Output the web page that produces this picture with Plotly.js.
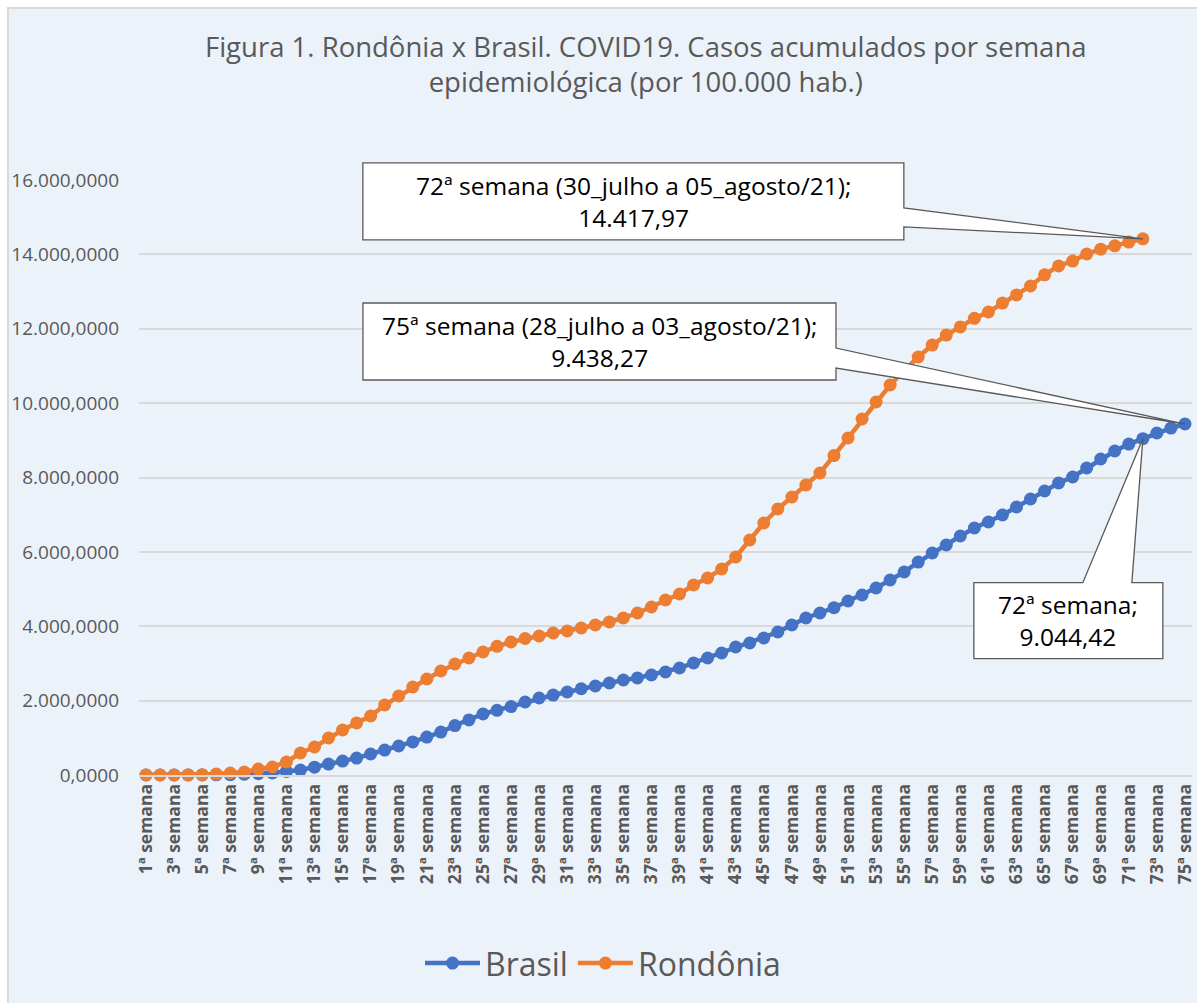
<!DOCTYPE html>
<html>
<head>
<meta charset="utf-8">
<script src="https://cdn.plot.ly/plotly-3.0.1.min.js"></script>
<style>
  body { margin: 0; background: #ffffff; }
  #frame { position: absolute; left: 7px; top: 7px; width: 1190px; height: 996px;
           border-left: 2px solid #d9d9d9; border-top: 2px solid #d9d9d9; }
  #plot { position: absolute; left: 0; top: 0; width: 1188px; height: 994px; }
</style>
</head>
<body>
<div id="frame"><div id="plot"></div></div>
<script>
// casos acumulados por 100.000 hab., por semana epidemiológica
var brasil = [0, 0, 0, 1, 2, 5, 10, 20, 35, 55,
  95, 135, 210, 295, 375, 455, 565, 670, 780, 890,
  1020, 1155, 1330, 1480, 1640, 1740, 1840, 1963, 2070, 2150,
  2232, 2320, 2393, 2474, 2555, 2610, 2689, 2770, 2877, 3012,
  3146, 3281, 3442, 3550, 3684, 3845, 4034, 4222, 4356, 4500,
  4679, 4840, 5029, 5244, 5459, 5727, 5970, 6185, 6427, 6642,
  6803, 6991, 7207, 7422, 7637, 7852, 8013, 8255, 8497, 8712,
  8900, 9044.42, 9196, 9330, 9438.27];

var rondonia = [0, 0, 0, 2, 10, 25, 54, 80, 160, 215,
  350, 592, 753, 995, 1210, 1400, 1587, 1882, 2124, 2366,
  2581, 2797, 2985, 3146, 3308, 3460, 3576, 3670, 3738, 3818,
  3872, 3953, 4034, 4114, 4222, 4356, 4518, 4706, 4867, 5109,
  5298, 5539, 5862, 6319, 6776, 7153, 7475, 7798, 8121, 8590,
  9062, 9573, 10030, 10487, 10870, 11240, 11560, 11830, 12050, 12280,
  12450, 12690, 12910, 13150, 13450, 13690, 13820, 14010, 14140, 14230,
  14330, 14417.97];

var semanas = [];
var labels = [];
for (var i = 1; i <= brasil.length; i++) {
  semanas.push(i);
  labels.push(i + "ª semana");
}

// only every other label is drawn
var tickVals = semanas.filter(function (s) { return s % 2 === 1; });
var tickText = tickVals.map(function (s) { return labels[s - 1]; });

var yMax = 16000;

function fmt(v) {
  var p = v.toFixed(2).split(".");
  return p[0].replace(/\B(?=(\d{3})+(?!\d))/g, ".") + "," + p[1];
}

var trace1 = {
  x: semanas,
  y: brasil,
  name: "Brasil",
  type: "scatter",
  mode: "lines+markers",
  line: { color: "#4472C4", width: 4.5 },
  marker: { color: "#4472C4", size: 13 },
  cliponaxis: false
};

var trace2 = {
  x: semanas.slice(0, rondonia.length),
  y: rondonia,
  name: "Rondônia",
  type: "scatter",
  mode: "lines+markers",
  line: { color: "#ED7D31", width: 4.5 },
  marker: { color: "#ED7D31", size: 13 },
  cliponaxis: false
};

var data = [trace1, trace2];

var iR = rondonia.length - 1;   // 72ª semana
var iB = brasil.length - 1;     // 75ª semana
var iB72 = 71;

var callouts = [
  { x: semanas[iR], y: rondonia[iR], text: "72ª semana (30_julho a 05_agosto/21);<br>" + fmt(rondonia[iR]),
    xs: -509.5, ys: 37.5,
    path: "M-780,76 L-239,76 L-239,31 L0,0 L-239,12 L-239,-1 L-780,-1 Z" },
  { x: semanas[iB], y: brasil[iB], text: "75ª semana (28_julho a 03_agosto/21);<br>" + fmt(brasil[iB]),
    xs: -585.5, ys: 82.5,
    path: "M-822,121 L-349,121 L-349,76 L0,0 L-349,56 L-349,44 L-822,44 Z" },
  { x: semanas[iB72], y: brasil[iB72], text: "72ª semana;<br>" + fmt(brasil[iB72]),
    xs: -74.5, ys: -182,
    path: "M-169,-144 L-60,-144 L0,0 L-11,-144 L20,-144 L20,-220 L-169,-220 Z" }
];

// callout boxes with their pointer, in pixels around the data point
var shapes = callouts.map(function (c) {
  return {
    type: "path", layer: "above",
    xref: "x", yref: "paper",
    xsizemode: "pixel", ysizemode: "pixel",
    xanchor: c.x, yanchor: c.y / yMax,
    path: c.path,
    fillcolor: "#ffffff",
    line: { color: "#595959", width: 1.3 }
  };
});

var annotations = callouts.map(function (c) {
  return {
    x: c.x, y: c.y, xref: "x", yref: "y",
    text: c.text, showarrow: false,
    xshift: c.xs, yshift: c.ys,
    xanchor: "center", yanchor: "middle",
    font: { family: "Open Sans, sans-serif", size: 24.5, color: "#000000" }
  };
});

var layout = {
  width: 1188,
  height: 994,
  paper_bgcolor: "#ECF2FA",
  plot_bgcolor: "#ECF2FA",
  separators: ",.",
  margin: { l: 130, r: 5, t: 171, b: 228 },
  font: { family: "Open Sans, sans-serif", color: "#595959" },
  title: {
    text: "Figura 1. Rondônia x Brasil. COVID19. Casos acumulados por semana<br>epidemiológica (por 100.000 hab.)",
    font: { family: "Open Sans, sans-serif", size: 27.5, color: "#595959" },
    xref: "container", x: 0.536, xanchor: "center",
    yref: "container", y: 0.952, yanchor: "top"
  },
  xaxis: {
    range: [0.5, 75.5],
    tickmode: "array",
    tickvals: tickVals,
    ticktext: tickText,
    tickangle: -90,
    tickfont: { size: 17.5, color: "#595959", family: "Open Sans, sans-serif", weight: "bold" },
    showgrid: false,
    zeroline: false,
    showline: true,
    linecolor: "#d9d9d9",
    linewidth: 2,
    ticks: ""
  },
  yaxis: {
    range: [0, yMax],
    dtick: 2000,
    tickformat: ",.4f",
    tickfont: { size: 19, color: "#595959" },
    showgrid: true,
    gridcolor: "#d9d9d9",
    gridwidth: 1.5,
    zeroline: false,
    ticks: "",
    ticklabelstandoff: 19
  },
  showlegend: true,
  legend: {
    orientation: "h",
    xref: "container", x: 0.5, xanchor: "center",
    yref: "container", y: 0.04, yanchor: "middle",
    font: { size: 32, color: "#595959" },
    itemwidth: 55,
    bgcolor: "rgba(0,0,0,0)"
  },
  shapes: shapes,
  annotations: annotations
};

Plotly.newPlot("plot", data, layout, { displayModeBar: false });
</script>
</body>
</html>
